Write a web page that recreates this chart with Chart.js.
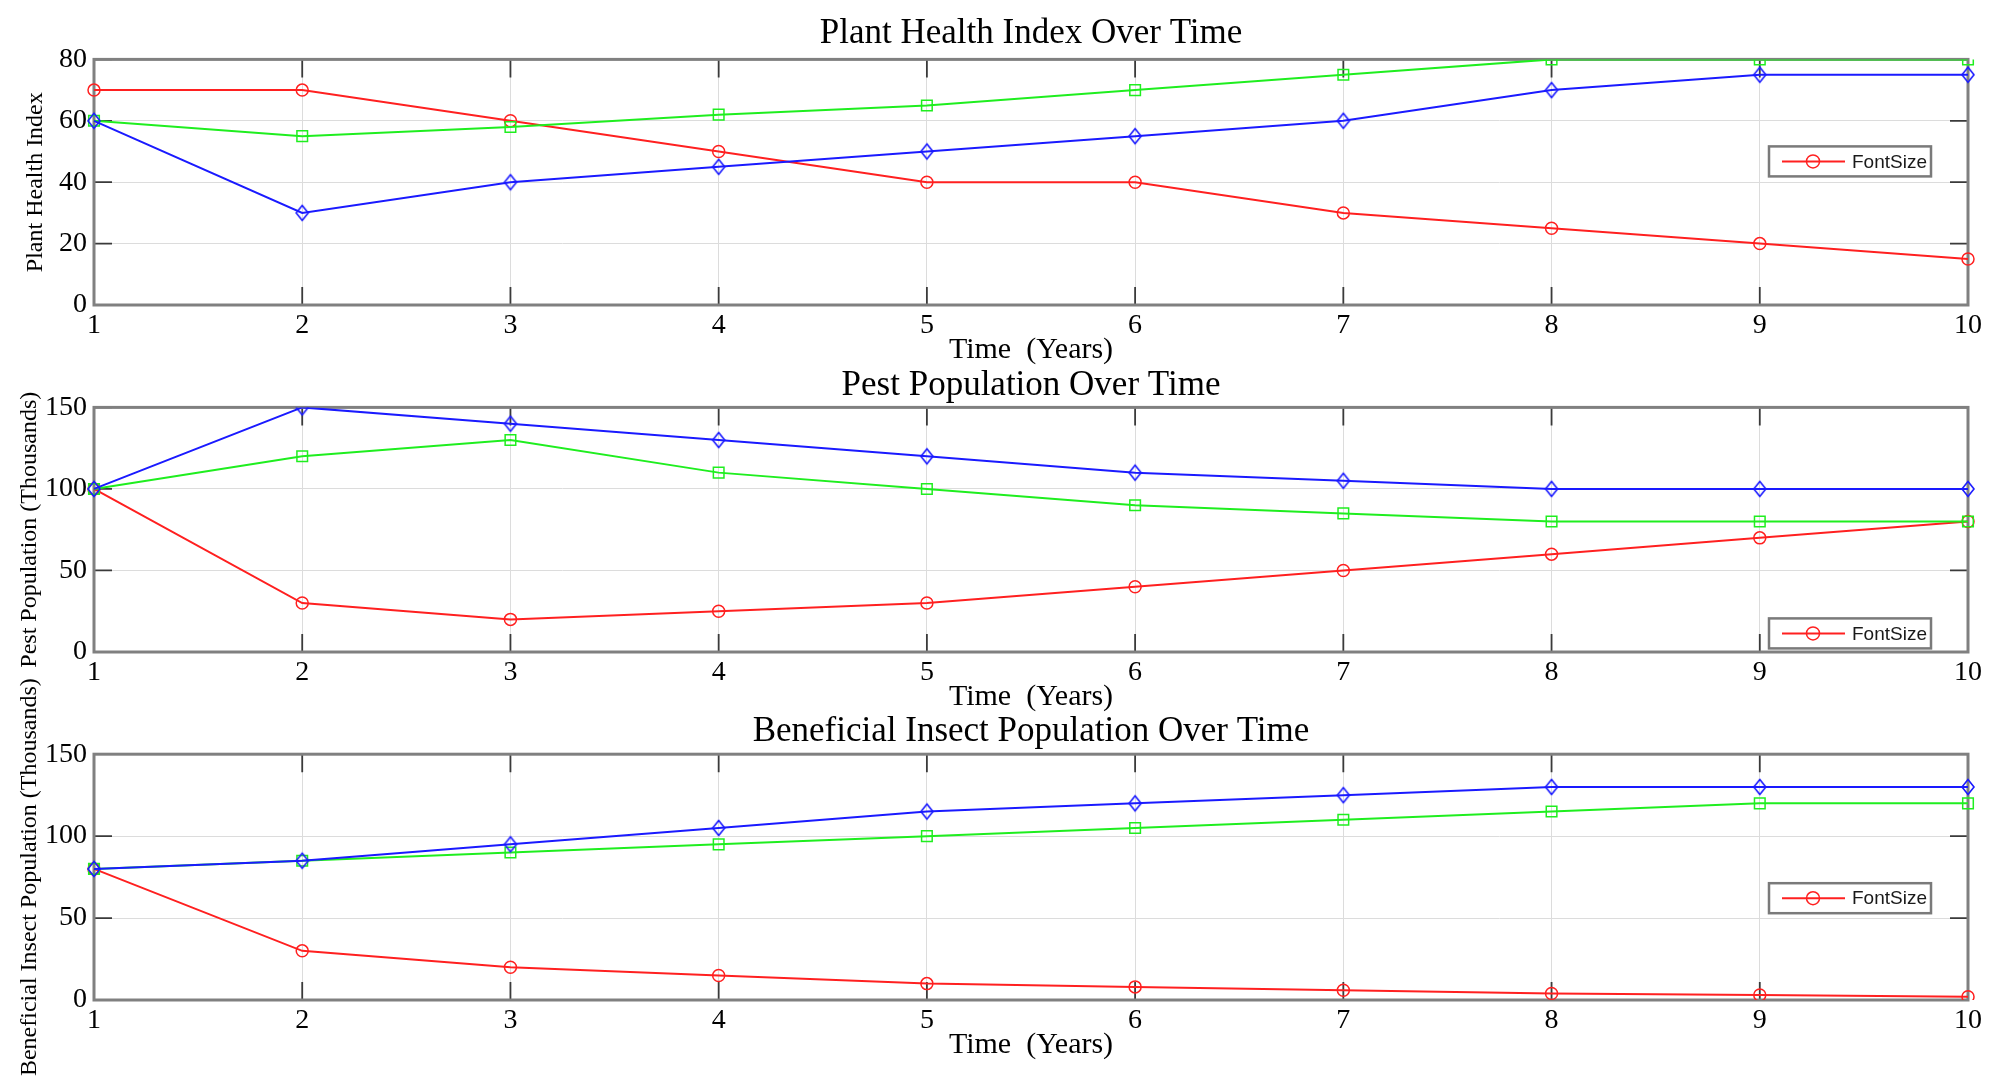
<!DOCTYPE html>
<html>
<head>
<meta charset="utf-8">
<title>Plant Health, Pest and Beneficial Insect Populations</title>
<script src="https://cdn.jsdelivr.net/npm/chart.js@4.4.1/dist/chart.umd.min.js"></script>
<style>
  html, body { margin: 0; padding: 0; background: #fff; }
  #wrap { position: relative; width: 2000px; height: 1079px; overflow: hidden; }
  #wrap canvas { position: absolute; left: 0; top: 0; }
</style>
</head>
<body>
<div id="wrap">
  <canvas id="health" width="2000" height="1079"></canvas>
  <canvas id="pest" width="2000" height="1079"></canvas>
  <canvas id="benef" width="2000" height="1079"></canvas>
</div>
<script>
// years on the x axis
var years = ["1", "2", "3", "4", "5", "6", "7", "8", "9", "10"];

// Plant Health Index
var healthRed   = [70, 70, 60, 50, 40, 40, 30, 25, 20, 15];
var healthGreen = [60, 55, 58, 62, 65, 70, 75, 80, 80, 80];
var healthBlue  = [60, 30, 40, 45, 50, 55, 60, 70, 75, 75];

// Pest Population (Thousands)
var pestRed   = [100, 30, 20, 25, 30, 40, 50, 60, 70, 80];
var pestGreen = [100, 120, 130, 110, 100, 90, 85, 80, 80, 80];
var pestBlue  = [100, 150, 140, 130, 120, 110, 105, 100, 100, 100];

// Beneficial Insect Population (Thousands)
var benefRed   = [80, 30, 20, 15, 10, 8, 6, 4, 3, 2];
var benefGreen = [80, 85, 90, 95, 100, 105, 110, 115, 120, 120];
var benefBlue  = [80, 85, 95, 105, 115, 120, 125, 130, 130, 130];

// y tick labels
var healthTicks = [0, 20, 40, 60, 80];
var popTicks = [0, 50, 100, 150];

var SERIF = "'Liberation Serif', 'Times New Roman', serif";
var SANS = "'Liberation Sans', Arial, sans-serif";
var RED = "#ff2020", GREEN = "#1fee1f", BLUE = "#1a1aff";

// matlab style diamond marker (a bit taller than wide)
function diamondMarker(color) {
    var c = document.createElement("canvas");
    c.width = 16; c.height = 20;
    var g = c.getContext("2d");
    g.strokeStyle = color;
    g.lineWidth = 1.6;
    g.beginPath();
    g.moveTo(8, 2.5); g.lineTo(14, 10); g.lineTo(8, 17.5); g.lineTo(2, 10);
    g.closePath();
    g.stroke();
    return c;
}
var diamond = diamondMarker(BLUE);

// box, inward ticks on all four sides
var matlabAxes = {
    id: "matlabAxes",
    beforeDatasetsDraw: function (chart) {
        var a = chart.chartArea, ctx = chart.ctx;
        var xs = chart.scales.x, ys = chart.scales.y;
        var len = 18;
        ctx.save();
        ctx.strokeStyle = "#3a3a3a";
        ctx.lineWidth = 1.8;
        ctx.beginPath();
        xs.ticks.forEach(function (t, i) {
            var px = xs.getPixelForTick(i);
            ctx.moveTo(px, a.bottom); ctx.lineTo(px, a.bottom - len);
            ctx.moveTo(px, a.top); ctx.lineTo(px, a.top + len);
        });
        ys.ticks.forEach(function (t, i) {
            var py = ys.getPixelForTick(i);
            ctx.moveTo(a.left, py); ctx.lineTo(a.left + len, py);
            ctx.moveTo(a.right, py); ctx.lineTo(a.right - len, py);
        });
        ctx.stroke();
        ctx.strokeStyle = "#808080";
        ctx.lineWidth = 3;
        ctx.strokeRect(a.left, a.top, a.right - a.left, a.bottom - a.top);
        ctx.restore();
    }
};

// y axis title, drawn by hand so the long one is not squeezed to the axis height
var yTitle = {
    id: "yTitle",
    afterDraw: function (chart, args, opts) {
        var a = chart.chartArea, ctx = chart.ctx;
        ctx.save();
        ctx.translate(opts.x, (a.top + a.bottom) / 2);
        ctx.rotate(-Math.PI / 2);
        ctx.font = "24px " + SERIF;
        ctx.fillStyle = "#000";
        ctx.textAlign = "center";
        ctx.textBaseline = "middle";
        ctx.fillText(opts.text, 0, 0);
        ctx.restore();
    }
};

// legend box inside the plot, only the first (red) line is named
var boxLegend = {
    id: "boxLegend",
    afterDatasetsDraw: function (chart, args, opts) {
        var a = chart.chartArea, ctx = chart.ctx;
        var ds = chart.data.datasets[0];
        var x0 = a.right - 199, x1 = a.right - 37;
        var cy = a.top + opts.offset;
        ctx.save();
        ctx.fillStyle = "#fff";
        ctx.fillRect(x0, cy - 15, x1 - x0, 30);
        ctx.strokeStyle = "#7a7a7a";
        ctx.lineWidth = 2.5;
        ctx.strokeRect(x0, cy - 15, x1 - x0, 30);
        ctx.strokeStyle = ds.borderColor;
        ctx.lineWidth = 2;
        ctx.beginPath();
        ctx.moveTo(x0 + 13, cy); ctx.lineTo(x0 + 76, cy);
        ctx.stroke();
        ctx.lineWidth = 1.5;
        ctx.beginPath();
        ctx.arc(x0 + 44, cy, 6.5, 0, Math.PI * 2);
        ctx.stroke();
        ctx.fillStyle = "#1a1a1a";
        ctx.font = "19px " + SANS;
        ctx.textBaseline = "middle";
        ctx.fillText(ds.label, x0 + 83, cy + 1);
        ctx.restore();
    }
};

function buildChart(id, title, yLabel, ticks, red, green, blue, L) {
    var ctx = document.getElementById(id).getContext("2d");
    return new Chart(ctx, {
        type: "line",
        data: {
            labels: years,
            datasets: [{
                label: "FontSize",
                data: red,
                borderColor: RED,
                borderWidth: 2,
                pointStyle: "circle",
                pointRadius: 6,
                pointBorderWidth: 1.5,
                pointBorderColor: RED,
                pointBackgroundColor: "rgba(0,0,0,0)",
                order: 3
            }, {
                label: "",
                data: green,
                borderColor: GREEN,
                borderWidth: 2,
                pointStyle: "rect",
                pointRadius: 7.5,
                pointBorderWidth: 1.5,
                pointBorderColor: GREEN,
                pointBackgroundColor: "rgba(0,0,0,0)",
                order: 2
            }, {
                label: "",
                data: blue,
                borderColor: BLUE,
                borderWidth: 2,
                pointStyle: diamond,
                pointRadius: 7,
                order: 1
            }]
        },
        options: {
            responsive: false,
            animation: false,
            devicePixelRatio: 1,
            layout: {
                padding: { left: 0, right: 32, top: L.top, bottom: 1079 - L.bottom - 63 }
            },
            plugins: {
                legend: { display: false },
                tooltip: { enabled: false },
                title: {
                    display: true,
                    fullSize: false, // centre over the plot, not the canvas
                    text: title,
                    color: "#000",
                    font: { family: SERIF, size: 35, weight: "normal" },
                    padding: { top: 0, bottom: L.gap }
                },
                yTitle: { text: yLabel, x: L.yx },
                boxLegend: { offset: L.legend }
            },
            scales: {
                x: {
                    type: "category",
                    offset: false,
                    grid: { color: "#dcdcdc", lineWidth: 1, drawTicks: false },
                    border: { display: false },
                    ticks: {
                        color: "#000",
                        font: { family: SERIF, size: 28 },
                        padding: 4,
                        maxRotation: 0,
                        autoSkip: false
                    },
                    title: {
                        display: true,
                        text: "Time  (Years)",
                        color: "#000",
                        font: { family: SERIF, size: 30 },
                        padding: 0
                    },
                    afterFit: function (s) { s.height = 63; }
                },
                y: {
                    min: ticks[0],
                    max: ticks[ticks.length - 1],
                    grid: { color: "#dcdcdc", lineWidth: 1, drawTicks: false },
                    border: { display: false },
                    ticks: {
                        stepSize: ticks[1] - ticks[0],
                        color: "#000",
                        font: { family: SERIF, size: 28 },
                        padding: 7
                    },
                    afterFit: function (s) { s.width = 94; }
                }
            }
        },
        plugins: [matlabAxes, yTitle, boxLegend]
    });
}

buildChart("health", "Plant Health Index Over Time", "Plant Health Index", healthTicks,
    healthRed, healthGreen, healthBlue, { top: 13, gap: 4.4, bottom: 305, yx: 36, legend: 102 });
buildChart("pest", "Pest Population Over Time", "Pest Population (Thousands)", popTicks,
    pestRed, pestGreen, pestBlue, { top: 364.5, gap: 0.9, bottom: 652, yx: 30, legend: 226 });
buildChart("benef", "Beneficial Insect Population Over Time", "Beneficial Insect Population (Thousands)", popTicks,
    benefRed, benefGreen, benefBlue, { top: 711, gap: 1.2, bottom: 1000, yx: 30, legend: 144 });
</script>
</body>
</html>
